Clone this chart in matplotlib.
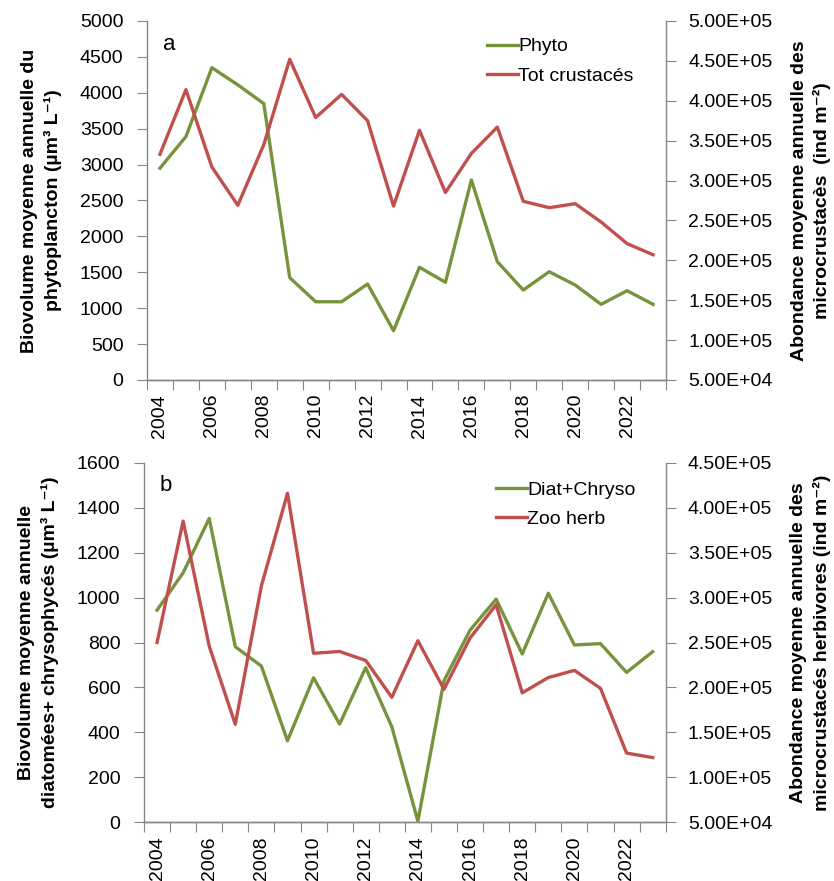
import matplotlib
matplotlib.use("Agg")
import matplotlib.pyplot as plt
import numpy as np
from matplotlib.ticker import FixedLocator, FuncFormatter

plt.rcParams["font.family"] = ["Liberation Sans", "DejaVu Sans"]

years = list(range(2004, 2024))

# panel a
phyto = [2950, 3390, 4350, 4110, 3850, 1425, 1090, 1090, 1337, 687,
         1570, 1361, 2786, 1648, 1253, 1508, 1323, 1054, 1244, 1054]
tot_crust = [3.33e5, 4.14e5, 3.17e5, 2.69e5, 3.45e5, 4.52e5, 3.79e5, 4.08e5, 3.75e5, 2.68e5,
             3.63e5, 2.85e5, 3.34e5, 3.67e5, 2.74e5, 2.66e5, 2.71e5, 2.48e5, 2.21e5, 2.07e5]

# panel b
diat_chryso = [944, 1110, 1352, 781, 695, 363, 643, 437, 688, 425,
               5, 630, 855, 993, 749, 1019, 789, 795, 667, 759]
zoo_herb = [2.50e5, 3.85e5, 2.46e5, 1.59e5, 3.13e5, 4.16e5, 2.38e5, 2.40e5, 2.30e5, 1.89e5,
            2.52e5, 1.98e5, 2.55e5, 2.92e5, 1.94e5, 2.11e5, 2.19e5, 1.99e5, 1.27e5, 1.22e5]

GREEN = "#77933C"
RED = "#C0504D"
GRAY = "#868686"
FS = 14
LFS = 14


def style_axes(ax, ax2, ylim, ystep, y2lim, y2step):
    x = np.arange(len(years))
    ax.set_xlim(-0.5, len(years) - 0.5)
    # ticks between categories, labels every other year
    ax.xaxis.set_major_locator(FixedLocator(np.arange(-0.5, len(years), 1.0)))
    ax.xaxis.set_major_formatter(FuncFormatter(lambda v, p: ""))
    ax.xaxis.set_minor_locator(FixedLocator(x[::2]))
    ax.set_xticklabels([str(y) for y in years[::2]], minor=True, rotation=90, fontsize=FS)
    ax.tick_params(axis="x", which="major", direction="out", length=7, color=GRAY)
    ax.tick_params(axis="x", which="minor", length=0, pad=10)

    ax.set_ylim(*ylim)
    ax.set_yticks(np.arange(ylim[0], ylim[1] + 1, ystep))
    ax.tick_params(axis="y", direction="out", length=7, color=GRAY, labelsize=FS, pad=10)

    ax2.set_ylim(*y2lim)
    ax2.set_yticks(np.arange(y2lim[0], y2lim[1] + 1, y2step))
    ax2.yaxis.set_major_formatter(FuncFormatter(lambda v, p: f"{v:.2E}"))
    ax2.tick_params(axis="y", direction="out", length=7, color=GRAY, labelsize=FS, pad=9)

    for a in (ax, ax2):
        a.spines["top"].set_visible(False)
        for s in ("left", "right", "bottom"):
            a.spines[s].set_color(GRAY)
            a.spines[s].set_linewidth(1.0)
    ax.spines["right"].set_visible(False)
    ax2.spines["left"].set_visible(False)


fig = plt.figure(figsize=(8.34, 8.81), dpi=100)
x = np.arange(len(years))

# ---- panel a
ax = fig.add_axes([147 / 834, 1 - 380 / 881, 519 / 834, 359 / 881])
ax2 = ax.twinx()
l1, = ax.plot(x, phyto, color=GREEN, lw=2.4, label="Phyto")
l2, = ax2.plot(x, tot_crust, color=RED, lw=2.4, label="Tot crustacés")
style_axes(ax, ax2, (0, 5000), 500, (5e4, 5e5), 5e4)
ax.set_ylabel("Biovolume moyenne annuelle du\nphytoplancton (µm³ L⁻¹)",
              fontsize=LFS, fontweight="bold", labelpad=13, linespacing=1.4)
ax2.set_ylabel("Abondance moyenne annuelle des\nmicrocrustacès  (ind m⁻²)",
               fontsize=LFS, fontweight="bold", rotation=90, labelpad=13, linespacing=1.4)
ax.text(0.03, 0.965, "a", transform=ax.transAxes, fontsize=FS + 2, va="top")
ax2.legend(handles=[l1, l2], loc="upper left", bbox_to_anchor=(0.64, 0.975),
           frameon=False, fontsize=FS, handlelength=1.6, handletextpad=0.0,
           labelspacing=0.6, borderaxespad=0)

# ---- panel b
bx = fig.add_axes([144 / 834, 1 - 822.3 / 881, 521.7 / 834, 359.6 / 881])
bx2 = bx.twinx()
m1, = bx.plot(x, diat_chryso, color=GREEN, lw=2.4, label="Diat+Chryso")
m2, = bx2.plot(x, zoo_herb, color=RED, lw=2.4, label="Zoo herb")
style_axes(bx, bx2, (0, 1600), 200, (5e4, 4.5e5), 5e4)
bx.set_ylabel("Biovolume moyenne annuelle\ndiatomées+ chrysophycés (µm³ L⁻¹)",
              fontsize=LFS, fontweight="bold", labelpad=13, linespacing=1.4)
bx2.set_ylabel("Abondance moyenne annuelle des\nmicrocrustacés herbivores (ind m⁻²)",
               fontsize=LFS, fontweight="bold", rotation=90, labelpad=13, linespacing=1.4)
bx.text(0.03, 0.965, "b", transform=bx.transAxes, fontsize=FS + 2, va="top")
bx2.legend(handles=[m1, m2], loc="upper left", bbox_to_anchor=(0.66, 0.97),
           frameon=False, fontsize=FS, handlelength=1.6, handletextpad=0.0,
           labelspacing=0.6, borderaxespad=0)

fig.savefig("out.png", dpi=100)
